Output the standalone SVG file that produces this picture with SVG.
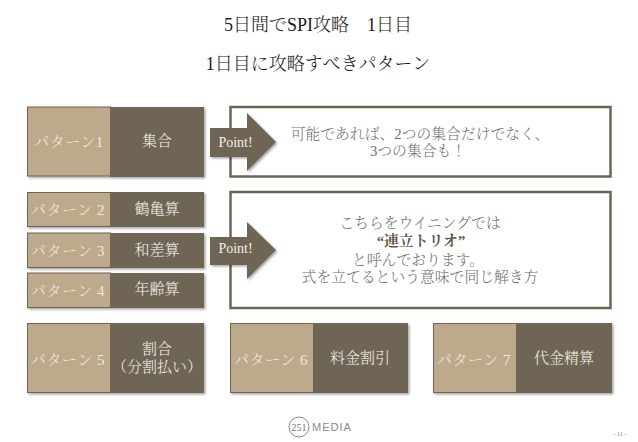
<svg xmlns="http://www.w3.org/2000/svg" width="638" height="442" viewBox="0 0 638 442">
<style>
text{font-family:"Liberation Serif","Noto Serif CJK JP","Noto Sans CJK JP",serif;text-anchor:middle;font-weight:300}
.title{font-size:18px;fill:#1c1c1c}
.lt{fill:#bdaa8c;stroke:#6e6555;stroke-width:1}
.dk{fill:#6e6555}
.wt{fill:#f4f0e8;font-size:15px}
.pl{fill:#efe9dc;font-size:15px;letter-spacing:.5px}
.bx{fill:#fff;stroke:#6e6555;stroke-width:2.500}
.body{fill:#6f6f6f;font-size:14.800px}
</style>
<defs><filter id="s" x="-10%" y="-10%" width="125%" height="130%"><feDropShadow dx="1.500" dy="1.500" stdDeviation="1" flood-color="#000" flood-opacity=".35"/></filter></defs>
<g id="title"><text class="title" x="318" y="31">5日間でSPI攻略　1日目</text><text class="title" x="318" y="70">1日目に攻略すべきパターン</text></g>
<g id="note1"><rect class="bx" x="230.500" y="107" width="380" height="69.500"/><text class="body" x="420" y="139">可能であれば、2つの集合だけでなく、</text><text class="body" x="418" y="156">3つの集合も！</text></g>
<g id="note2"><rect class="bx" x="230.500" y="192" width="380" height="116"/><text class="body" x="420" y="228">こちらをウイニングでは</text><text class="body" x="421" y="246" style="font-weight:700;fill:#5f5748">“連立トリオ”</text><text class="body" x="418" y="265">と呼んでおります。</text><text class="body" x="420" y="282">式を立てるという意味で同じ解き方</text></g>
<g id="p1"><g filter="url(#s)"><rect class="lt" x="27.500" y="107" width="83" height="69"/><rect class="dk" x="110" y="107" width="94" height="70"/></g><text class="pl" x="69" y="147">パターン1</text><text class="wt" x="157" y="146">集合</text></g>
<g id="p2"><g filter="url(#s)"><rect class="lt" x="27.500" y="192.500" width="83" height="34"/><rect class="dk" x="110" y="192" width="94" height="35"/></g><text class="pl" x="68" y="215">パターン 2</text><text class="wt" x="157" y="214">鶴亀算</text></g>
<g id="p3"><g filter="url(#s)"><rect class="lt" x="27.500" y="233" width="83" height="34.500"/><rect class="dk" x="110" y="233" width="94" height="35"/></g><text class="pl" x="68" y="256">パターン 3</text><text class="wt" x="157" y="255">和差算</text></g>
<g id="p4"><g filter="url(#s)"><rect class="lt" x="27.500" y="273" width="83" height="34.500"/><rect class="dk" x="110" y="273" width="94" height="35"/></g><text class="pl" x="68" y="296">パターン 4</text><text class="wt" x="157" y="294">年齢算</text></g>
<g id="p5"><g filter="url(#s)"><rect class="lt" x="27.500" y="323.500" width="83" height="69"/><rect class="dk" x="110" y="323" width="94" height="70"/></g><text class="pl" x="68" y="365">パターン 5</text><text class="wt" x="157" y="354">割合</text><text class="wt" x="157" y="372">（分割払い）</text></g>
<g id="p6"><g filter="url(#s)"><rect class="lt" x="230.500" y="323.500" width="83" height="69"/><rect class="dk" x="313" y="323" width="95" height="70"/></g><text class="pl" x="271" y="365">パターン 6</text><text class="wt" x="360" y="363">料金割引</text></g>
<g id="p7"><g filter="url(#s)"><rect class="lt" x="433.500" y="323.500" width="83" height="69"/><rect class="dk" x="517" y="323" width="95" height="70"/></g><text class="pl" x="474" y="365">パターン 7</text><text class="wt" x="564" y="363">代金精算</text></g>
<g id="connectors">
<polygon class="dk" filter="url(#s)" points="210,128 247,128 247,113 276,142 247,171 247,157 210,157"/>
<polygon class="dk" filter="url(#s)" points="210,237 247,237 247,222 276,250 247,279 247,265 210,265"/>
</g>
<g id="point1"><text x="235.500" y="147" style="fill:#f4f0e8;font-size:14px">Point!</text></g>
<g id="point2"><text x="235.500" y="253" style="fill:#f4f0e8;font-size:14px">Point!</text></g>
<g id="logo"><circle cx="299" cy="427" r="10" fill="none" stroke="#8a8a8a"/><text x="299" y="431" style="font-size:10px;fill:#777">251</text><text x="332" y="431" style="font-family:'Liberation Sans',sans-serif;font-size:11px;letter-spacing:1px;fill:#8a8a8a">MEDIA</text></g>
<g id="page"><text x="620" y="436" style="font-size:6px;fill:#777">- 11 -</text></g>
</svg>
